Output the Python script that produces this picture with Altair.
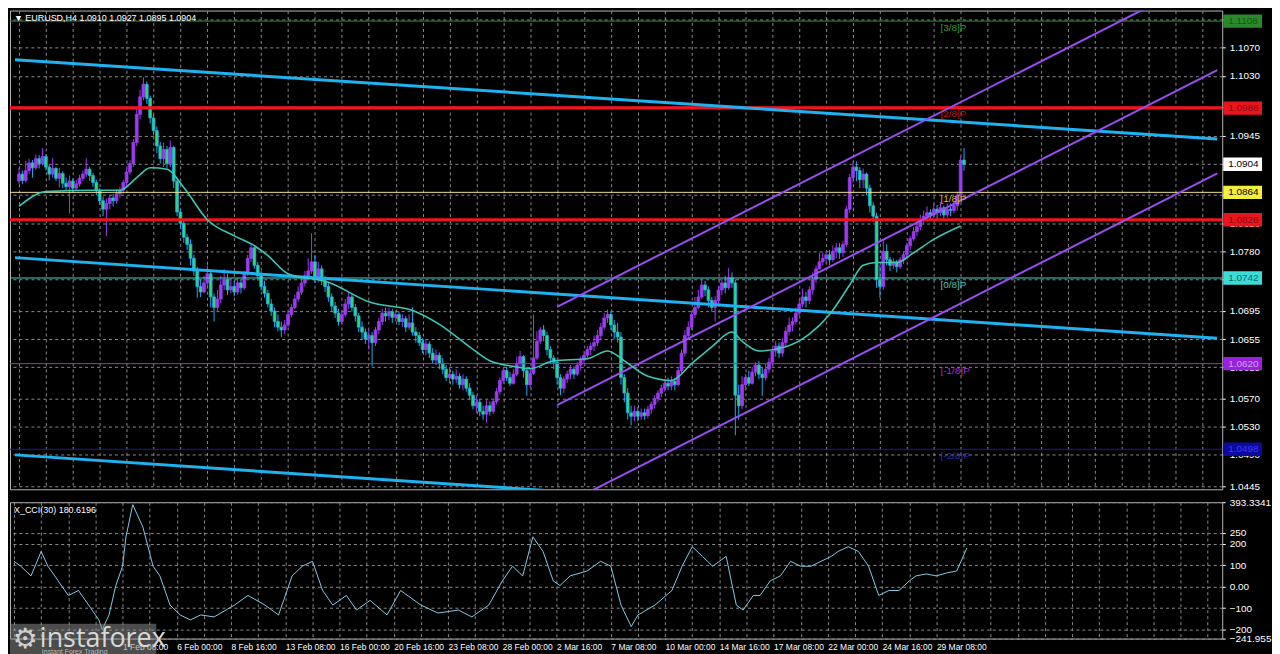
import json
import altair as alt
import pandas as pd

# ---------------- data (prices in 1/10000) ----------------
first_open = 10880
close = [
    10890, 10881, 10895, 10906, 10899, 10912, 10905, 10915, 10900, 10890,
    10898, 10884, 10891, 10877, 10872, 10880, 10870, 10876, 10884, 10890,
    10897, 10888, 10878, 10866, 10852, 10840, 10848, 10856, 10852, 10862,
    10867, 10878, 10893, 10905, 10935, 10975, 11000, 11018, 10998, 10970,
    10952, 10930, 10912, 10925, 10905, 10928, 10880, 10836, 10820, 10800,
    10790, 10770, 10752, 10730, 10722, 10735, 10748, 10715, 10700, 10712,
    10732, 10740, 10725, 10730, 10722, 10735, 10728, 10748, 10770, 10785,
    10760, 10745, 10730, 10720, 10705, 10695, 10680, 10672, 10668, 10675,
    10690, 10700, 10712, 10722, 10735, 10745, 10752, 10765, 10742, 10755,
    10738, 10730, 10715, 10702, 10692, 10680, 10690, 10705, 10715, 10700,
    10688, 10672, 10665, 10655, 10660, 10650, 10668, 10680, 10692, 10688,
    10694, 10686, 10690, 10680, 10684, 10672, 10678, 10665, 10660, 10650,
    10640, 10648, 10635, 10625, 10632, 10620, 10612, 10600, 10605, 10598,
    10602, 10590, 10598, 10585, 10575, 10560, 10565, 10552, 10548, 10560,
    10552, 10566, 10580, 10596, 10610, 10600, 10592, 10605, 10620, 10630,
    10610, 10590, 10606, 10628, 10652, 10668, 10660, 10640, 10628, 10622,
    10600, 10585, 10598, 10605, 10612, 10605, 10618, 10625, 10632, 10640,
    10645, 10650, 10660, 10672, 10685, 10690, 10675, 10665, 10658, 10600,
    10578, 10550, 10545, 10552, 10545, 10550, 10546, 10555, 10562, 10570,
    10578, 10585, 10592, 10588, 10595, 10590, 10610, 10635, 10660, 10672,
    10690, 10700, 10715, 10732, 10725, 10710, 10700, 10710, 10725, 10735,
    10728, 10742, 10735, 10575, 10560, 10590, 10600, 10592, 10608, 10618,
    10605, 10600, 10612, 10622, 10638, 10645, 10635, 10650, 10666, 10675,
    10680, 10692, 10705, 10715, 10710, 10725, 10740, 10755, 10765, 10770,
    10775, 10768, 10780, 10785, 10778, 10790, 10840, 10885, 10900, 10895,
    10882, 10890, 10870, 10845, 10830, 10740, 10730, 10780, 10768, 10760,
    10765, 10758, 10768, 10775, 10788, 10798, 10808, 10815, 10825, 10830,
    10835, 10832, 10840, 10835, 10842, 10832, 10840, 10838, 10845, 10860,
    10910, 10904,
]
high = [
    10899, 10895, 10909, 10912, 10910, 10918, 10917, 10927, 10918, 10904,
    10913, 10900, 10899, 10894, 10885, 10888, 10884, 10882, 10889, 10895,
    10913, 10900, 10892, 10882, 10870, 10858, 10855, 10860, 10862, 10868,
    10872, 10882, 10898, 10910, 10940, 10985, 11010, 11028, 11022, 11002,
    10975, 10958, 10936, 10935, 10930, 10938, 10930, 10885, 10840, 10825,
    10805, 10797, 10775, 10758, 10740, 10745, 10760, 10752, 10720, 10725,
    10745, 10755, 10748, 10742, 10738, 10742, 10740, 10752, 10775, 10790,
    10788, 10765, 10752, 10738, 10725, 10712, 10700, 10690, 10680, 10682,
    10695, 10705, 10718, 10730, 10742, 10752, 10770, 10806, 10775, 10765,
    10760, 10745, 10735, 10720, 10708, 10698, 10695, 10712, 10722, 10720,
    10705, 10692, 10680, 10670, 10668, 10665, 10672, 10685, 10698, 10700,
    10700, 10698, 10696, 10694, 10690, 10688, 10690, 10700, 10672, 10665,
    10656, 10655, 10652, 10642, 10640, 10636, 10628, 10618, 10615, 10610,
    10612, 10606, 10605, 10602, 10592, 10580, 10575, 10570, 10560, 10568,
    10566, 10570, 10585, 10600, 10614, 10616, 10608, 10612, 10630, 10638,
    10632, 10615, 10612, 10690, 10666, 10672, 10675, 10665, 10645, 10632,
    10625, 10605, 10602, 10610, 10618, 10616, 10622, 10630, 10638, 10645,
    10650, 10660, 10668, 10678, 10692, 10697, 10694, 10682, 10678, 10665,
    10605, 10585, 10560, 10560, 10558, 10556, 10556, 10560, 10566, 10575,
    10582, 10590, 10598, 10600, 10602, 10600, 10615, 10640, 10668, 10680,
    10695, 10715, 10725, 10741, 10738, 10730, 10715, 10716, 10730, 10741,
    10745, 10756, 10750, 10740, 10590, 10602, 10605, 10610, 10615, 10622,
    10624, 10615, 10620, 10628, 10642, 10652, 10650, 10656, 10672, 10686,
    10686, 10700, 10712, 10727, 10722, 10730, 10750, 10760, 10778, 10778,
    10780, 10782, 10788, 10792, 10792, 10795, 10845, 10890, 10909, 10908,
    10900, 10898, 10892, 10875, 10850, 10835, 10760, 10797, 10790, 10772,
    10770, 10768, 10772, 10780, 10792, 10802, 10815, 10820, 10832, 10838,
    10844, 10840, 10848, 10846, 10850, 10845, 10848, 10848, 10852, 10865,
    10915, 10927,
]
low = [
    10876, 10876, 10878, 10890, 10885, 10896, 10898, 10902, 10895, 10881,
    10885, 10880, 10871, 10870, 10867, 10834, 10865, 10866, 10872, 10880,
    10886, 10880, 10872, 10860, 10846, 10830, 10802, 10840, 10844, 10848,
    10856, 10862, 10874, 10889, 10900, 10930, 10968, 10995, 10990, 10962,
    10945, 10920, 10905, 10900, 10898, 10900, 10870, 10830, 10812, 10792,
    10782, 10760, 10745, 10714, 10715, 10720, 10730, 10700, 10680, 10694,
    10706, 10725, 10718, 10720, 10716, 10718, 10720, 10725, 10745, 10765,
    10755, 10738, 10724, 10714, 10700, 10688, 10672, 10666, 10658, 10662,
    10672, 10686, 10698, 10708, 10718, 10730, 10740, 10748, 10735, 10736,
    10732, 10722, 10708, 10695, 10685, 10674, 10676, 10686, 10698, 10694,
    10680, 10665, 10655, 10648, 10640, 10616, 10645, 10662, 10675, 10680,
    10682, 10678, 10680, 10675, 10672, 10665, 10668, 10660, 10650, 10645,
    10635, 10632, 10628, 10620, 10618, 10612, 10605, 10595, 10592, 10590,
    10592, 10584, 10582, 10580, 10568, 10555, 10550, 10545, 10540, 10536,
    10546, 10548, 10562, 10576, 10592, 10595, 10588, 10590, 10602, 10614,
    10600, 10574, 10585, 10604, 10625, 10648, 10652, 10632, 10620, 10612,
    10590, 10575, 10578, 10592, 10598, 10598, 10602, 10610, 10620, 10626,
    10632, 10638, 10645, 10655, 10668, 10678, 10668, 10655, 10650, 10590,
    10565, 10540, 10532, 10538, 10538, 10540, 10540, 10542, 10548, 10556,
    10565, 10572, 10580, 10582, 10582, 10582, 10588, 10605, 10630, 10655,
    10668, 10685, 10698, 10712, 10716, 10700, 10694, 10680, 10705, 10718,
    10720, 10725, 10728, 10518, 10540, 10555, 10582, 10588, 10590, 10602,
    10598, 10574, 10596, 10606, 10618, 10630, 10628, 10630, 10645, 10660,
    10666, 10676, 10688, 10700, 10700, 10705, 10718, 10735, 10755, 10760,
    10762, 10760, 10765, 10770, 10769, 10772, 10786, 10835, 10878, 10880,
    10870, 10870, 10860, 10835, 10822, 10728, 10714, 10725, 10760, 10752,
    10755, 10750, 10755, 10762, 10770, 10782, 10795, 10802, 10810, 10818,
    10822, 10825, 10828, 10826, 10830, 10826, 10828, 10830, 10834, 10838,
    10858, 10895,
]

ma_bar = [0, 8, 23, 30, 35, 39, 44, 49, 56, 64, 70, 74, 80, 92, 104, 118, 125, 134,
          140, 146, 152, 159, 169, 175, 180, 187, 194, 200, 206, 212, 215, 220, 228,
          235, 241, 247, 251, 255, 261, 266, 272, 280]
ma_val = [10844, 10865, 10867, 10867, 10885, 10899, 10897, 10871, 10825, 10802, 10788,
          10774, 10748, 10736, 10708, 10694, 10676, 10644, 10624, 10617, 10613, 10624,
          10627, 10638, 10624, 10602, 10596, 10620, 10644, 10665, 10652, 10638, 10644,
          10662, 10690, 10732, 10760, 10764, 10764, 10778, 10797, 10816]

cci_bar = [0, 2, 5, 8, 10, 13, 16, 19, 22, 25, 26, 28, 30, 32, 33, 35, 38, 41, 43, 46,
           49, 52, 55, 59, 65, 69, 74, 78, 82, 85, 88, 91, 94, 98, 101, 105, 110, 114,
           120, 125, 131, 135, 140, 144, 147, 150, 153, 156, 159, 161, 164, 169, 173,
           176, 179, 182, 184, 189, 194, 197, 200, 203, 206, 210, 213, 215, 218, 220,
           223, 226, 229, 232, 235, 241, 243, 246, 249, 252, 255, 258, 261, 264, 266,
           269, 272, 275, 278, 281]
cci_val = [118, 95, 50, 164, 95, 27, -41, -18, -86, -155, -200, -132, 5, 95, 232, 382,
           277, 95, 50, -86, -132, -155, -132, -141, -86, -41, -86, -132, 50, 95, 118,
           -18, -86, -41, -109, -64, -132, -18, -86, -123, -109, -141, -86, 27, 95, 50,
           232, 164, 27, 5, 50, 73, 118, 95, -86, -186, -132, -86, -18, 95, 186, 141,
           95, 141, -86, -109, -41, -41, 27, 50, 118, 95, 95, 141, 164, 186, 164, 95,
           -41, -18, -18, 27, 50, 59, 50, 64, 73, 180]

# trend lines: (bar, price) end points
blue_names = ["t1", "t1", "t2", "t2", "t3", "t3"]
blue_bar = [-1.2, 356.3, -1.2, 356.3, -1.2, 356.3]
blue_px = [11053, 10940, 10771, 10656, 10490, 10375]
chan_names = ["c1", "c1", "c2", "c2", "c3", "c3"]
chan_bar = [160, 356.3, 160, 356.3, 160, 356.3]
chan_px = [10701, 11178, 10561, 11038, 10414, 10891]

red_levels = [1.0984, 1.0825]
murrey_names = ["[3/8]P", "[2/8]P", "[1/8]P", "[0/8]P", "[-1/8]P", "[-2/8]P"]
murrey_vals = [1.1108, 1.0986, 1.0864, 1.0742, 1.0620, 1.0498]
box_names = ["b38", "r1", "cur", "b18", "r2", "b08", "bm18", "bm28"]
box_vals = [1.1108, 1.0984, 1.0904, 1.0864, 1.0825, 1.0742, 1.0620, 1.0498]
box_text = ["1.1108", "1.0986", "1.0904", "1.0864", "1.0826", "1.0742", "1.0620", "1.0498"]

price_ticks = [1.0445, 1.0490, 1.0530, 1.0570, 1.0615, 1.0655, 1.0695, 1.0740, 1.0780,
               1.0820, 1.0860, 1.0905, 1.0945, 1.0985, 1.1030, 1.1070, 1.1110]
hidden_ticks = [1.0740, 1.0860, 1.0905, 1.0985, 1.1110]   # covered by level boxes
x_label_bars_start = 32
x_labels = ["1 Feb 08:00", "6 Feb 00:00", "8 Feb 16:00", "13 Feb 08:00", "16 Feb 00:00",
            "20 Feb 16:00", "23 Feb 08:00", "28 Feb 00:00", "2 Mar 16:00", "7 Mar 08:00",
            "10 Mar 00:00", "14 Mar 16:00", "17 Mar 08:00", "22 Mar 00:00",
            "24 Mar 16:00", "29 Mar 08:00"]
cci_ticks = [-241.955, -200, -100, 0, 100, 200, 250, 393.3341]
title_price = "\u25BC EURUSD,H4  1.0910 1.0927 1.0895 1.0904"
title_cci = "X_CCI(30) 180.6196"

# ---------------- styles ----------------
W, H1, H2 = 1218, 481, 137
FONT = "Liberation Sans"
UP = "#9b3cf0"
DN_LINE = "#1fa9ef"
DN_FILL = "#2fd97a"
GRID = "#8a8a8a"

xs = alt.Scale(domain=[-1.2, 356.3], nice=False, zero=False)
ys = alt.Scale(domain=[1.0441, 1.1123], nice=False, zero=False)
cs = alt.Scale(domain=[-241.955, 393.3341], nice=False, zero=False)
grid_vals = list(range(0, 357, 8))

n = min(len(close), len(high), len(low))
opens = [first_open] + close[: n - 1]
candles = pd.DataFrame({
    "i": list(range(n)),
    "o": [v / 10000 for v in opens],
    "h": [v / 10000 for v in high[:n]],
    "l": [v / 10000 for v in low[:n]],
    "c": [v / 10000 for v in close[:n]],
})
candles["dir"] = ["up" if c >= o else "down" for o, c in zip(candles["o"], candles["c"])]

hidden_expr = " || ".join(f"abs(datum.value - {v}) < 0.00001" for v in hidden_ticks)
x_price_axis = alt.Axis(values=grid_vals, labels=False, ticks=False, domain=False,
                        grid=True, gridColor=GRID, gridDash=[3, 3], title=None)
y_price_axis = alt.Axis(orient="right", values=price_ticks,
                        labelExpr=f"({hidden_expr}) ? '' : format(datum.value, '.4f')",
                        labelColor="#ffffff", labelFont=FONT, labelFontSize=10,
                        tickColor="#ffffff", tickSize=3, labelPadding=4, domain=False,
                        grid=True, gridColor=GRID, gridDash=[3, 3], title=None,
                        labelOverlap=False)


def PX(field):
    return alt.X(field, scale=xs, axis=x_price_axis)


def PY(field):
    return alt.Y(field, scale=ys, axis=y_price_axis)


wicks = alt.Chart(candles).mark_rule(strokeWidth=1).encode(
    x=PX("i:Q"), y=PY("l:Q"), y2="h:Q",
    color=alt.Color("dir:N", scale=alt.Scale(domain=["up", "down"], range=[UP, DN_LINE]),
                    legend=None),
)
bodies = alt.Chart(candles).mark_bar(size=2.8, strokeWidth=0.8).encode(
    x=PX("i:Q"), y=PY("o:Q"), y2="c:Q",
    fill=alt.Fill("dir:N", scale=alt.Scale(domain=["up", "down"], range=[UP, DN_FILL]),
                  legend=None),
    stroke=alt.Stroke("dir:N", scale=alt.Scale(domain=["up", "down"], range=[UP, DN_LINE]),
                      legend=None),
)

murrey_df = pd.DataFrame({"name": murrey_names, "v": murrey_vals})
murrey_colors = ["#2f8f2f", "#e8141e", "#eee08a", "#45d6cc", "#9a2fd8", "#1c1c9c"]
murrey_lines = alt.Chart(murrey_df).mark_rule(strokeWidth=1).encode(
    y=PY("v:Q"),
    color=alt.Color("name:N", scale=alt.Scale(domain=murrey_names, range=murrey_colors),
                    legend=None),
)
murrey_txt_colors = ["#2f9f2f", "#c81018", "#e0b040", "#45c6bc", "#9a2fd8", "#2a2ab0"]
murrey_text = alt.Chart(murrey_df).mark_text(
    align="left", baseline="top", dy=2, font=FONT, fontSize=10
).encode(
    x=alt.XDatum(274, scale=xs, axis=x_price_axis),
    y=PY("v:Q"),
    text="name:N",
    color=alt.Color("name:N", scale=alt.Scale(domain=murrey_names, range=murrey_txt_colors),
                    legend=None),
)

red_df = pd.DataFrame({"v": red_levels})
red_lines = alt.Chart(red_df).mark_rule(strokeWidth=3, color="#f0141e").encode(y=PY("v:Q"))

blue_df = pd.DataFrame({"name": blue_names, "i": blue_bar, "p": [v / 10000 for v in blue_px]})
blue_lines = alt.Chart(blue_df).mark_line(strokeWidth=3, color="#1eb2f0", clip=True).encode(
    x=PX("i:Q"), y=PY("p:Q"), detail="name:N",
)
chan_df = pd.DataFrame({"name": chan_names, "i": chan_bar, "p": [v / 10000 for v in chan_px]})
chan_lines = alt.Chart(chan_df).mark_line(strokeWidth=2, color="#9a4cf5", clip=True).encode(
    x=PX("i:Q"), y=PY("p:Q"), detail="name:N",
)

ma_df = pd.DataFrame({"i": ma_bar, "p": [v / 10000 for v in ma_val]})
ma_line = alt.Chart(ma_df).mark_line(strokeWidth=1.6, color="#3cc8b4",
                                     interpolate="monotone").encode(x=PX("i:Q"), y=PY("p:Q"))

box_df = pd.DataFrame({"name": box_names, "v": box_vals, "t": box_text})
box_fill = ["#2a8a2a", "#e8141e", "#ffffff", "#f2f03c", "#e8141e", "#3cdcd6", "#9a20e0", "#0a0a9c"]
box_tcol = ["#145814", "#8a0a10", "#000000", "#000000", "#8a0a10", "#0a6c6c", "#d0a0ff", "#3a3aff"]
boxes = alt.Chart(box_df).transform_calculate(
    lo="datum.v - 0.00095", hi="datum.v + 0.00095"
).mark_rect().encode(
    x=alt.value(W + 1), x2=alt.value(W + 40),
    y=PY("lo:Q"), y2="hi:Q",
    fill=alt.Fill("name:N", scale=alt.Scale(domain=box_names, range=box_fill), legend=None),
)
box_labels = alt.Chart(box_df).mark_text(align="left", baseline="middle", font=FONT,
                                         fontSize=10).encode(
    x=alt.value(W + 6),
    y=PY("v:Q"),
    text="t:N",
    color=alt.Color("name:N", scale=alt.Scale(domain=box_names, range=box_tcol), legend=None),
)

title_df = pd.DataFrame({"t": [title_price]})
title_mark = alt.Chart(title_df).mark_text(align="left", baseline="middle", font=FONT,
                                           fontSize=9, color="#ffffff").encode(
    x=alt.value(4), y=alt.value(8), text="t:N"
)

price = alt.layer(
    wicks, bodies, murrey_lines, red_lines, blue_lines, chan_lines, ma_line,
    murrey_text, boxes, box_labels, title_mark
).resolve_scale(color="independent", fill="independent", stroke="independent").properties(
    width=W, height=H1
)

# ---------------- CCI panel ----------------
m = min(len(cci_bar), len(cci_val))
cci_df = pd.DataFrame({"i": cci_bar[:m], "v": cci_val[:m]})
lbl_arr = json.dumps(x_labels)
x_expr = (f"(datum.value >= {x_label_bars_start} && (datum.value - {x_label_bars_start}) % 16 == 0 "
          f"&& (datum.value - {x_label_bars_start}) / 16 < {len(x_labels)}) ? "
          f"{lbl_arr}[(datum.value - {x_label_bars_start}) / 16] : ''")
x_cci_axis = alt.Axis(values=grid_vals, labelExpr=x_expr, labelColor="#ffffff",
                      labelFont=FONT, labelFontSize=8.5, labelAlign="left", labelPadding=4,
                      labelOverlap=False, ticks=False, domain=False, grid=True,
                      gridColor=GRID, gridDash=[3, 3], title=None)
y_cci_axis = alt.Axis(orient="right", values=cci_ticks,
                      labelExpr="datum.value > 300 ? format(datum.value, '.4f') : "
                                "(datum.value < -220 ? format(datum.value, '.3f') : "
                                "(datum.value == 0 ? '0.00' : format(datum.value, 'd')))",
                      labelColor="#ffffff", labelFont=FONT, labelFontSize=10,
                      tickColor="#ffffff", tickSize=3, labelPadding=4, domain=False,
                      grid=True, gridColor=GRID, gridDash=[3, 3], title=None,
                      labelOverlap=False)
cci_line = alt.Chart(cci_df).mark_line(strokeWidth=1, color="#86c9e6").encode(
    x=alt.X("i:Q", scale=xs, axis=x_cci_axis),
    y=alt.Y("v:Q", scale=cs, axis=y_cci_axis),
)
cci_title_df = pd.DataFrame({"t": [title_cci]})
cci_title = alt.Chart(cci_title_df).mark_text(align="left", baseline="middle", font=FONT,
                                              fontSize=9, color="#ffffff").encode(
    x=alt.value(4), y=alt.value(8), text="t:N"
)
logo_df = pd.DataFrame({"a": ["instaforex"], "b": ["Instant Forex Trading"], "g": ["\u2699"]})
logo_bg = alt.Chart(logo_df).mark_rect(fill="#8a8a8a", opacity=0.55).encode(
    x=alt.value(0), x2=alt.value(147), y=alt.value(H2 - 15), y2=alt.value(H2 + 25)
)
logo_gear = alt.Chart(logo_df).mark_text(align="center", baseline="middle", font="DejaVu Sans",
                                         fontSize=28, color="#d0d0d0").encode(
    x=alt.value(15), y=alt.value(H2 + 1), text="g:N"
)
logo_main = alt.Chart(logo_df).mark_text(align="left", baseline="alphabetic", font="Open Sans",
                                         fontSize=27, color="#d8d8d8").encode(
    x=alt.value(30), y=alt.value(H2 + 8), text="a:N"
)
logo_sub = alt.Chart(logo_df).mark_text(align="left", baseline="middle", font=FONT,
                                        fontSize=7, color="#b8b8b8").encode(
    x=alt.value(32), y=alt.value(H2 + 14), text="b:N"
)

cci = alt.layer(cci_line, cci_title, logo_bg, logo_gear, logo_main, logo_sub).properties(
    width=W, height=H2
)

chart = alt.vconcat(price, cci, spacing=4).configure(
    background="#000000", padding=0
).configure_view(stroke="#b4b4b4", strokeWidth=1)

chart.save("out.html", embed_options={"renderer": "svg", "actions": False})
